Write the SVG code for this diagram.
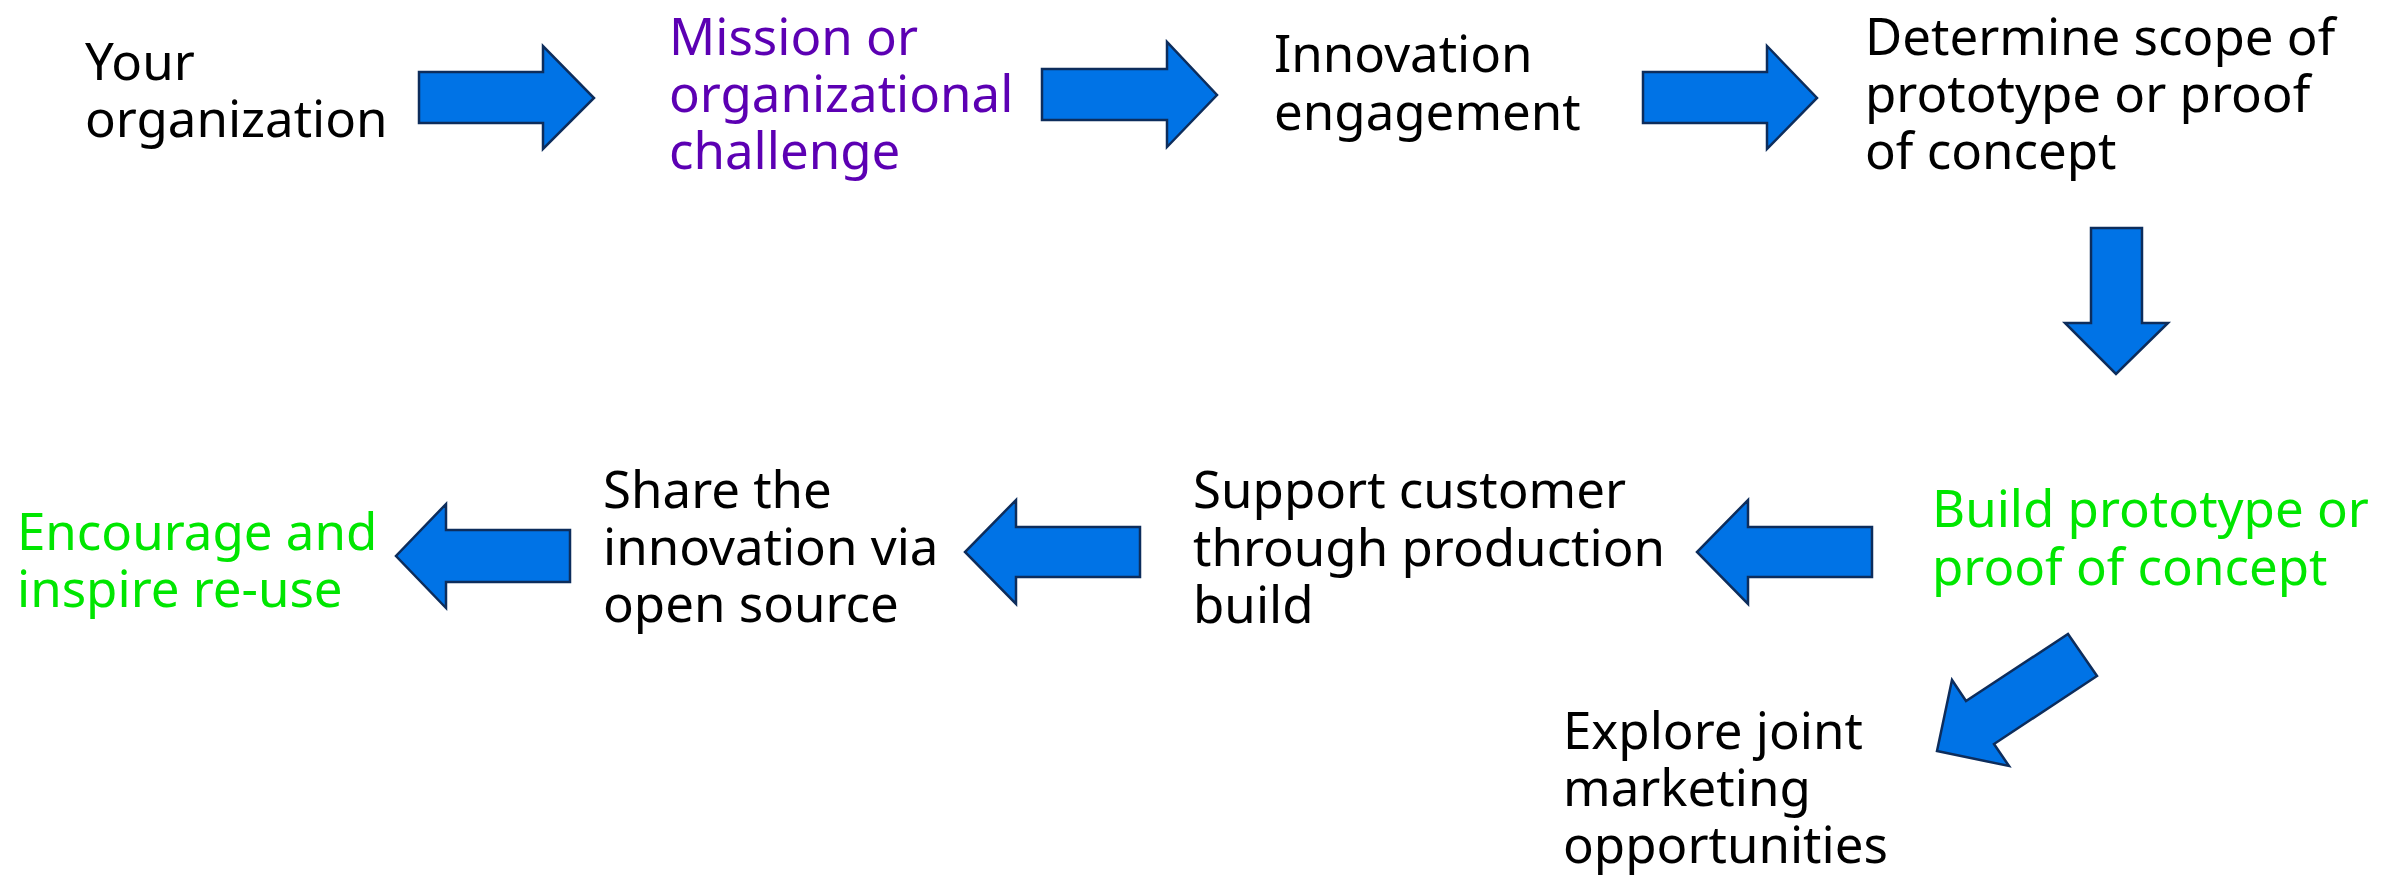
<svg xmlns="http://www.w3.org/2000/svg" width="2407" height="878" viewBox="0 0 2407 878">
<style>
  text { font-family: "Noto Sans", "Open Sans", sans-serif; font-size: 51px; fill: #000000; }
  .purple { fill: #5c00b3; }
  .green { fill: #00e600; }
  .arrow { fill: #0073e6; stroke: #0d2d5c; stroke-width: 2.5; stroke-linejoin: miter; }
</style>
<rect width="2407" height="878" fill="#ffffff"/>
<g id="n-your-org">
  <text x="85" y="80"><tspan x="85" y="80">Your</tspan><tspan x="85" y="137">organization</tspan></text>
</g>
<g id="n-mission">
  <text class="purple"><tspan x="669" y="55">Mission or</tspan><tspan x="669" y="112">organizational</tspan><tspan x="669" y="169">challenge</tspan></text>
</g>
<g id="n-innovation">
  <text><tspan x="1274" y="72">Innovation</tspan><tspan x="1274" y="130">engagement</tspan></text>
</g>
<g id="n-determine">
  <text><tspan x="1865" y="55">Determine scope of</tspan><tspan x="1865" y="112">prototype or proof</tspan><tspan x="1865" y="169">of concept</tspan></text>
</g>
<g id="n-build">
  <text class="green"><tspan x="1932" y="527">Build prototype or</tspan><tspan x="1932" y="585">proof of concept</tspan></text>
</g>
<g id="n-explore">
  <text><tspan x="1563" y="749">Explore joint</tspan><tspan x="1563" y="806">marketing</tspan><tspan x="1563" y="863">opportunities</tspan></text>
</g>
<g id="n-support">
  <text><tspan x="1193" y="508">Support customer</tspan><tspan x="1193" y="566">through production</tspan><tspan x="1193" y="623">build</tspan></text>
</g>
<g id="n-share">
  <text><tspan x="603" y="508">Share the</tspan><tspan x="603" y="565">innovation via</tspan><tspan x="603" y="622">open source</tspan></text>
</g>
<g id="n-encourage">
  <text class="green"><tspan x="17" y="550">Encourage and</tspan><tspan x="17" y="607">inspire re-use</tspan></text>
</g>
<g id="connectors">
  <path class="arrow" d="M419,72 H543 V46 L594,98 L543,149 V123 H419 Z"/>
  <path class="arrow" d="M1042,69 H1167 V42 L1217,95 L1167,147 V120 H1042 Z"/>
  <path class="arrow" d="M1643,72 H1767 V46 L1817,98 L1767,149 V123 H1643 Z"/>
  <path class="arrow" d="M2091,228 H2142 V323 H2168 L2116,374 L2065,323 H2091 Z"/>
  <path class="arrow" d="M2068,634 L2097,676 L1994,744 L2009,766 L1937,751 L1952,680 L1966,701 Z"/>
  <path class="arrow" d="M1872,527 H1748 V500 L1697,552 L1748,604 V577 H1872 Z"/>
  <path class="arrow" d="M1140,527 H1016 V500 L965,552 L1016,604 V577 H1140 Z"/>
  <path class="arrow" d="M570,530 H446 V504 L396,556 L446,608 V582 H570 Z"/>
</g>
</svg>
